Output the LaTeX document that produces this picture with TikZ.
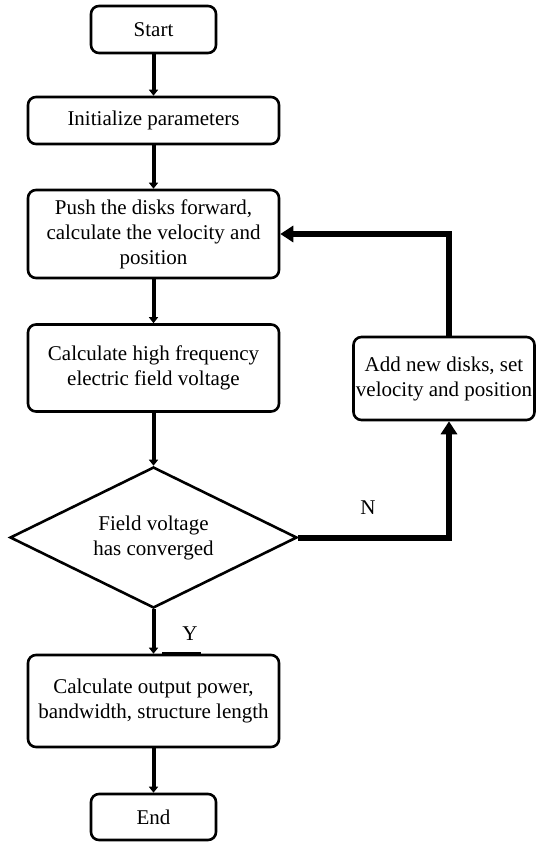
\documentclass[tikz,border=0pt]{standalone}
\usepackage{fontspec}
\setmainfont{Liberation Serif}
\usetikzlibrary{shapes.geometric,arrows.meta}
\begin{document}
\begin{tikzpicture}[x=1pt,y=-1pt,
  every node/.style={font=\fontsize{21}{25}\selectfont},
  box/.style={draw, line width=2.6pt, rounded corners=8pt, align=center, inner sep=0pt},
  decision/.style={draw, diamond, line width=2.6pt, align=center, inner sep=0pt, aspect=2.04},
  flow/.style={line width=4pt, -{Triangle[length=6pt,width=9pt]}},
  loop/.style={line width=6pt, -{Triangle[length=13pt,width=16pt]}},
  lbl/.style={inner sep=0pt}]
\useasboundingbox (0,0) rectangle (536,842);
\node[box, minimum width=125pt, minimum height=47pt] (start) at (153.5,29.5) {Start};
\node[box, minimum width=251pt, minimum height=47pt] (init) at (153.5,120.5) {Initialize parameters};
\node[box, minimum width=251pt, minimum height=88pt] (push) at (153.5,234) {Push the disks forward,\\calculate the velocity and\\position};
\node[box, minimum width=251pt, minimum height=87pt] (hf) at (153.5,368) {Calculate high frequency\\electric field voltage};
\node[decision, minimum width=287pt, minimum height=141pt] (dia) at (153.5,537.5) {Field voltage\\has converged};
\node[box, minimum width=251pt, minimum height=92pt] (out) at (153.5,701) {Calculate output power,\\bandwidth, structure length};
\node[box, minimum width=125pt, minimum height=46pt] (end) at (153.5,817) {End};
\node[box, minimum width=181pt, minimum height=83pt] (add) at (444,378.5) {Add new disks, set\\velocity and position};
\node[lbl] (n) at (368,508) {N};
\node[lbl] (y) at (190,634) {Y};
\coordinate (lx) at (449,0);
\draw[flow] (start) -- (init);
\draw[flow] (init) -- (push);
\draw[flow] (push) -- (hf);
\draw[flow] (hf) -- (dia);
\draw[flow] (dia) -- (out);
\draw[flow] (out) -- (end);
\draw[loop] (dia.east) -| (lx |- add.south);
\draw[loop] (lx |- add.north) |- (push.east);
\draw[line width=4pt] ([xshift=8.5pt]out.north) -- ([xshift=47.5pt]out.north);
\end{tikzpicture}
\end{document}
